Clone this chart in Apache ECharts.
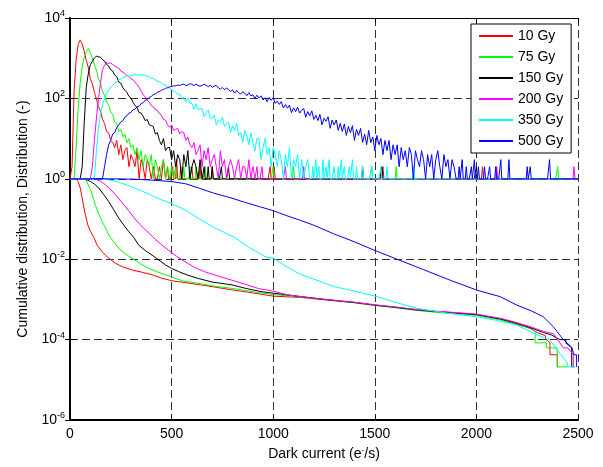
<!DOCTYPE html>
<html>
<head>
<meta charset="utf-8">
<script src="https://cdn.jsdelivr.net/npm/echarts@6/dist/echarts.min.js"></script>
<style>
  html, body { margin: 0; padding: 0; background: #fff; }
  #chart { width: 603px; height: 467px; }
</style>
</head>
<body>
<div id="chart"></div>
<script>
// dose labels and colours
var doses = ['10 Gy', '75 Gy', '150 Gy', '200 Gy', '350 Gy', '500 Gy'];
var colors = ['#ff0000', '#00ff00', '#000000', '#ff00ff', '#00ffff', '#0000ff'];

var BIN = 10;       // histogram bin width (e-/s) in the dense part
var XMAX = 2500;

// histogram counts (dense part), first bin at histStart[i]
var histStart = [0, 20, 50, 100, 120, 160];
var hist10 = [1, 2, 150, 900, 2200, 2800, 2250, 1500, 880, 590, 310, 230, 140, 98, 62, 48, 30, 24, 15, 14,
  9, 8, 6, 9, 4, 7, 3, 5, 6, 2, 4, 3, 2, 5, 1, 3, 2, 1, 3, 2, 1, 2, 1, 1, 2, 1, 3, 1, 2];
var hist75 = [1, 6, 55, 240, 620, 1050, 1450, 1750, 1380, 1020, 690, 500, 310, 240, 150, 120, 80, 70, 46, 40,
  26, 24, 15, 17, 11, 13, 8, 10, 6, 7, 4, 6, 3, 5, 2, 4, 3, 2, 4, 1, 3, 2, 1, 2, 3, 1, 2, 1, 2, 1, 2];
var hist150 = [1, 2, 25, 190, 410, 690, 840, 1010, 1120, 1080, 1060, 920, 850, 700, 640, 520, 480, 380, 350, 255,
  240, 185, 160, 140, 112, 102, 80, 66, 60, 44, 43, 36, 28, 30, 22, 21, 20, 13, 14, 9,
  7, 10, 5, 6, 6, 3, 5, 2, 4, 3, 1, 4, 2, 5, 1, 2, 3, 2, 1, 3, 1, 2];
var hist200 = [1, 2, 9, 32, 95, 240, 520, 660, 780, 740, 760, 700, 640, 600, 570, 480, 450, 410, 370, 350,
  310, 290, 255, 220, 190, 150, 125, 108, 90, 82, 66, 62, 52, 50, 42, 38, 30, 29, 22, 19,
  22, 16, 17, 18, 13, 15, 14, 9, 11, 7, 6, 8, 4, 5, 7, 2, 5, 3, 6, 2,
  3, 4, 2, 1, 5, 2, 3, 1, 2, 3, 2, 1, 2, 3, 1, 2, 2, 1, 3, 1, 2, 1, 2];
var hist350 = [1, 5, 18, 42, 70, 98, 130, 160, 185, 210, 240, 255, 290, 300, 330, 340, 365, 350, 385, 370,
  400, 385, 390, 375, 395, 360, 365, 340, 320, 315, 290, 270, 260, 240, 220, 218, 190, 180, 170, 150,
  142, 128, 127, 99, 105, 81, 101, 76, 75, 54, 74, 52, 56, 55, 35, 44, 51, 32, 32, 38,
  22, 29, 26, 34, 20, 23, 26, 14, 21, 16, 24, 12, 14, 8, 16, 12, 7, 14, 8, 5,
  10, 10, 3, 6, 10, 4, 6, 2, 6, 4, 2, 5, 3, 1, 4, 2, 6, 1, 3, 2, 4, 1, 3, 1, 2, 3, 1];
var hist500 = [1, 2, 4, 7, 9, 13, 14, 19, 22, 26, 28, 34, 37, 43, 45, 52, 54, 62, 64, 74,
  78, 90, 94, 106, 112, 124, 130, 142, 148, 160, 166, 178, 184, 194, 196, 206, 204, 214, 210, 220,
  225, 209, 214, 232, 225, 207, 228, 209, 201, 210, 225, 213, 196, 213, 188, 203, 209, 182, 170, 187,
  166, 180, 168, 149, 163, 135, 158, 138, 128, 146, 135, 117, 139, 116, 123, 100, 120, 103, 116, 91,
  104, 83, 105, 89, 104, 75, 86, 71, 83, 58, 70, 57, 68, 44, 58, 47, 60, 43, 51, 56,
  34, 47, 37, 49, 30, 38, 28, 40, 22, 32, 27, 35, 18, 29, 22, 29, 16, 24, 15, 23,
  12, 20, 14, 21, 9, 17, 12, 18, 8, 13, 7, 16, 8, 11, 5, 12, 7, 10, 4, 9,
  5, 9, 3, 7, 4, 7, 2, 6, 3, 5, 2, 6, 4, 1, 5, 3, 2, 5, 3, 1,
  4, 2, 4, 1, 3, 5, 2, 1, 4, 2, 3, 1, 3, 2, 1];

// isolated counts in the sparse tails: [x, count]
var spikes10 = [[505, 2], [525, 3], [545, 2], [600, 2], [640, 2], [700, 2], [985, 2], [1005, 2], [1540, 2], [2030, 2]];
var spikes75 = [[560, 2], [590, 2], [620, 2], [665, 2], [1000, 2], [1100, 2], [1485, 2], [1605, 2], [2400, 2]];
var spikes150 = [[680, 2], [700, 2], [745, 2], [780, 2], [1440, 2], [1535, 2], [2000, 2]];
var spikes200 = [[945, 2], [1060, 2], [1150, 2], [2100, 2], [2480, 2]];
var spikes350 = [[1195, 2], [1210, 3], [1225, 2], [1245, 3], [1260, 2], [1275, 3], [1300, 2], [1320, 2], [1335, 3],
  [1350, 2], [1375, 2], [1390, 3], [1410, 2], [1440, 2], [1485, 2], [1530, 2], [1560, 2], [1690, 2]];
var spikes500 = [[1915, 2], [1930, 3], [1950, 2], [1975, 2], [1990, 3], [2010, 2], [2040, 2], [2065, 2], [2095, 2],
  [2120, 3], [2160, 3], [2250, 2], [2265, 2], [2360, 3]];

// cumulative distributions: [x, fraction above x]
var cum10 = [[0, 1], [20, 1], [30, 0.97], [40, 0.85], [50, 0.6], [57, 0.4], [66, 0.22], [76, 0.125], [88, 0.07],
  [101, 0.049], [117, 0.035], [134, 0.022], [155, 0.016], [175, 0.0125], [200, 0.0098], [224, 0.0079],
  [260, 0.0064], [306, 0.0054], [350, 0.0048], [404, 0.0041], [450, 0.0034], [502, 0.0029], [570, 0.0026],
  [642, 0.0023], [720, 0.002], [806, 0.0017], [900, 0.00145], [1002, 0.0012], [1133, 0.00112], [1250, 0.00098],
  [1400, 0.00083], [1494, 0.00072], [1600, 0.00063], [1707, 0.00054], [1800, 0.00049], [1900, 0.00045],
  [2002, 0.00041], [2060, 0.00036], [2117, 0.00032], [2170, 0.00027], [2215, 0.00023], [2264, 0.00019],
  [2300, 0.00015], [2340, 0.000125], [2340, 0.000104], [2362, 0.000083], [2362, 0.000042], [2398, 0.000042],
  [2398, 0.000021], [2405, 0.000021]];
var cum75 = [[0, 1], [60, 1], [76, 0.98], [90, 0.7], [101, 0.54], [113, 0.35], [125, 0.22], [140, 0.14],
  [158, 0.087], [175, 0.06], [191, 0.04], [215, 0.027], [240, 0.0186], [270, 0.0138], [306, 0.0105],
  [345, 0.0078], [388, 0.0059], [430, 0.0048], [470, 0.0041], [552, 0.0029], [633, 0.0025], [720, 0.0021],
  [805, 0.00186], [900, 0.00155], [1002, 0.00132], [1133, 0.00115], [1250, 0.001], [1400, 0.00082],
  [1494, 0.00071], [1600, 0.00062], [1707, 0.00053], [1800, 0.00048], [1900, 0.00044], [2002, 0.0004],
  [2060, 0.00035], [2117, 0.00031], [2170, 0.00026], [2215, 0.00022], [2264, 0.0002], [2289, 0.00016],
  [2289, 0.000083], [2346, 0.000083], [2346, 0.000062], [2398, 0.000062], [2398, 0.000021], [2452, 0.000021]];
var cum150 = [[0, 1], [70, 1], [101, 0.86], [120, 0.74], [142, 0.59], [165, 0.41], [191, 0.27], [215, 0.17],
  [240, 0.105], [265, 0.07], [289, 0.049], [315, 0.034], [338, 0.0224], [370, 0.0165], [404, 0.0126],
  [435, 0.0097], [470, 0.0072], [500, 0.0059], [535, 0.0049], [580, 0.004], [633, 0.0033], [700, 0.0027],
  [797, 0.0023], [870, 0.00185], [945, 0.00155], [1040, 0.00135], [1133, 0.00118], [1250, 0.001],
  [1400, 0.00084], [1494, 0.00073], [1600, 0.00064], [1707, 0.00055], [1800, 0.0005], [1900, 0.00046],
  [2002, 0.00042], [2060, 0.00037], [2117, 0.00033], [2170, 0.00028], [2215, 0.00024], [2264, 0.0002],
  [2330, 0.00015], [2370, 0.00013], [2411, 0.0001], [2440, 0.0001], [2440, 0.000083], [2469, 0.000062],
  [2469, 0.000021], [2475, 0.000021]];
var cum200 = [[0, 1], [100, 1], [125, 0.98], [150, 0.87], [175, 0.71], [200, 0.54], [224, 0.4], [255, 0.26],
  [289, 0.16], [320, 0.1], [355, 0.064], [390, 0.044], [420, 0.031], [450, 0.023], [486, 0.0165],
  [525, 0.0118], [568, 0.0085], [615, 0.0062], [666, 0.0048], [730, 0.0038], [797, 0.003], [860, 0.0024],
  [928, 0.00186], [1002, 0.0016], [1068, 0.0013], [1133, 0.00118], [1250, 0.00101], [1400, 0.00085],
  [1494, 0.00074], [1600, 0.00065], [1707, 0.00056], [1800, 0.00051], [1900, 0.00047], [2002, 0.00043],
  [2060, 0.00038], [2117, 0.00034], [2170, 0.00029], [2215, 0.00025], [2264, 0.00021], [2330, 0.00016],
  [2380, 0.00014], [2428, 0.000062], [2450, 0.000062], [2477, 0.000042], [2477, 0.000021], [2485, 0.000021]];
var cum350 = [[0, 1], [110, 1], [170, 0.98], [224, 0.88], [270, 0.73], [306, 0.62], [347, 0.52], [404, 0.38],
  [450, 0.3], [502, 0.24], [570, 0.165], [637, 0.1], [700, 0.065], [765, 0.045], [805, 0.036], [879, 0.02],
  [961, 0.0115], [1002, 0.0105], [1060, 0.0068], [1133, 0.0042], [1200, 0.0032], [1297, 0.0021],
  [1400, 0.0016], [1510, 0.00118], [1600, 0.00085], [1707, 0.0006], [1850, 0.00046], [2002, 0.00037],
  [2100, 0.0003], [2199, 0.00023], [2300, 0.00013], [2360, 0.0001], [2411, 0.000045], [2444, 0.000028],
  [2452, 0.000021], [2485, 0.000021]];
var cum500 = [[0, 1], [200, 1], [314, 0.98], [400, 0.93], [502, 0.85], [570, 0.75], [633, 0.59], [707, 0.44],
  [797, 0.33], [860, 0.26], [937, 0.2], [1002, 0.16], [1068, 0.12], [1133, 0.093], [1200, 0.07],
  [1297, 0.043], [1400, 0.027], [1494, 0.017], [1609, 0.01], [1740, 0.0055], [1871, 0.003], [2002, 0.0017],
  [2117, 0.00117], [2199, 0.00072], [2270, 0.00052], [2329, 0.00037], [2378, 0.00021], [2428, 0.0001],
  [2469, 0.000065], [2480, 0.000042], [2493, 0.000042], [2493, 0.000021]];

var hists = [hist10, hist75, hist150, hist200, hist350, hist500];
var spikes = [spikes10, spikes75, spikes150, spikes200, spikes350, spikes500];
var cums = [cum10, cum75, cum150, cum200, cum350, cum500];

// empty bins are drawn at 1 (log axis); tails are sampled every 5 e-/s
function buildHist(start, counts, sp) {
  var end = start + (counts.length - 1) * BIN;
  var tail = {};
  sp.forEach(function (s) { tail[s[0]] = s[1]; });
  var out = [];
  for (var x = 0; x <= XMAX; x += 5) {
    if (x >= start && x <= end) {
      if ((x - start) % BIN === 0) out.push([x, counts[(x - start) / BIN]]);
    } else {
      out.push([x, tail[x] || 1]);
    }
  }
  return out;
}

var FONT = '"Liberation Sans", Arial, sans-serif';
var series = [];
cums.forEach(function (c, i) {
  series.push({
    name: doses[i], type: 'line', data: c, symbol: 'none', color: colors[i],
    lineStyle: { width: 1 }, animation: false
  });
});
hists.forEach(function (h, i) {
  series.push({
    name: doses[i], type: 'line', data: buildHist(histStart[i], h, spikes[i]), symbol: 'none', color: colors[i],
    lineStyle: { width: 1 }, animation: false
  });
});

var gridDash = { show: true, lineStyle: { color: '#333', width: 1, type: [8, 4] } };
var expLabel = {
  fontFamily: FONT, color: '#000', margin: 5,
  formatter: function (v) { return '{b|10}{s|' + Math.round(Math.log10(v)) + '}'; },
  rich: {
    b: { fontSize: 14, fontFamily: FONT, color: '#000' },
    s: { fontSize: 9, fontFamily: FONT, color: '#000', padding: [0, 0, 9, 0] }
  },
  showMinLabel: true, showMaxLabel: true
};

var option = {
  backgroundColor: '#fff',
  animation: false,
  grid: { left: 70, right: 25, top: 18, bottom: 47 },
  legend: {
    orient: 'vertical', left: 471, top: 24,
    padding: [5, 8, 5, 7], itemGap: 7, itemWidth: 34, itemHeight: 14,
    borderColor: '#000', borderWidth: 1, backgroundColor: '#fff',
    itemStyle: { opacity: 0 },
    textStyle: { fontSize: 14, fontFamily: FONT, color: '#000' },
    data: doses
  },
  xAxis: [{
    type: 'value', min: 0, max: XMAX, interval: 500,
    name: '{n|Dark current (e}{s|-}{n|/s)}', nameLocation: 'middle', nameGap: 24,
    nameTextStyle: {
      rich: {
        n: { fontSize: 14, fontFamily: FONT, color: '#000' },
        s: { fontSize: 8, fontFamily: FONT, color: '#000', padding: [0, 0, 9, 0] }
      }
    },
    axisLine: { lineStyle: { color: '#000', width: 2 } },
    axisTick: { inside: true, length: 5, lineStyle: { color: '#000' } },
    axisLabel: {
      fontSize: 14, fontFamily: FONT, color: '#000', margin: 7,
      formatter: function (v) { return String(v); }
    },
    splitLine: gridDash
  }, {
    type: 'value', position: 'top', min: 0, max: XMAX, interval: 500,
    axisLine: { show: true, lineStyle: { color: '#000', width: 1 } },
    axisTick: { inside: true, length: 5, lineStyle: { color: '#000' } },
    axisLabel: { show: false }, splitLine: { show: false }
  }],
  yAxis: [{
    type: 'log', logBase: 10, min: 1e-6, max: 1e4, interval: 2,
    name: 'Cumulative distribution, Distribution (-)', nameLocation: 'middle', nameGap: 40,
    nameTextStyle: { fontSize: 14, fontFamily: FONT, color: '#000' },
    axisLine: { show: true, lineStyle: { color: '#000', width: 2 } },
    axisTick: { show: true, inside: true, length: 5, lineStyle: { color: '#000' } },
    axisLabel: expLabel,
    splitLine: gridDash
  }, {
    type: 'log', logBase: 10, min: 1e-6, max: 1e4, interval: 2, position: 'right',
    axisLine: { show: true, lineStyle: { color: '#000', width: 1 } },
    axisTick: { show: true, inside: true, length: 5, lineStyle: { color: '#000' } },
    axisLabel: { show: false }, splitLine: { show: false }
  }],
  series: series
};

var myChart = echarts.init(document.getElementById('chart'));
myChart.setOption(option);
</script>
</body>
</html>
